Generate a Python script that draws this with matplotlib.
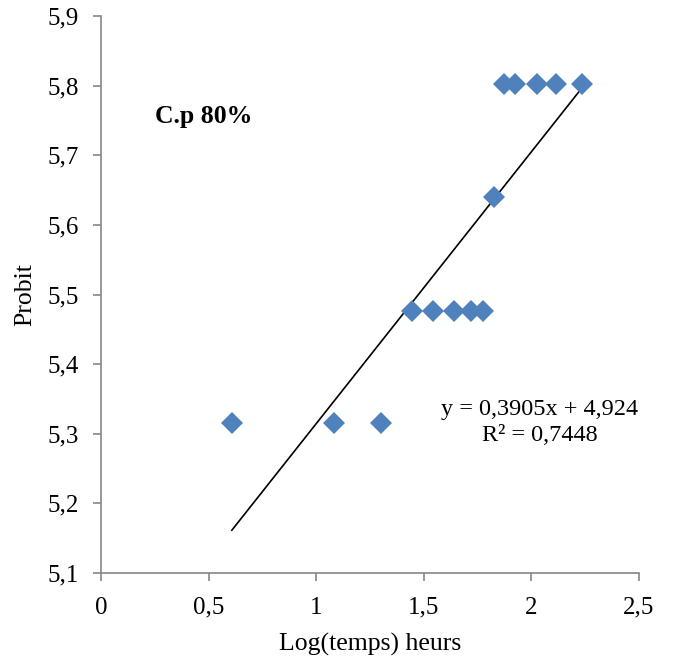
import matplotlib.pyplot as plt
from matplotlib.ticker import FuncFormatter
import numpy as np

plt.rcParams['font.family'] = ['Liberation Serif', 'DejaVu Serif']

# Log(temps) et probits observés
log_temps = [0.608, 1.081, 1.303, 1.447, 1.545, 1.642, 1.721, 1.776,
             1.827, 1.874, 1.925, 2.027, 2.115, 2.236]
probit = [5.316, 5.316, 5.316, 5.476, 5.476, 5.476, 5.476, 5.476,
          5.640, 5.802, 5.802, 5.802, 5.802, 5.802]

# droite de régression
pente = 0.3905
ordonnee = 4.924
r2 = 0.7448


def virgule(v, pos):
    s = '%g' % round(v, 2)
    return s.replace('.', ',')


fig = plt.figure(figsize=(6.77, 6.64), dpi=100)
ax = fig.add_axes([101 / 677, 91 / 664, 538 / 677, 557 / 664])

ax.plot(log_temps, probit, 'D', color='#4F81BD', markersize=11.5,
        markeredgewidth=0, zorder=3)

xl = np.array([min(log_temps), max(log_temps)])
ax.plot(xl, pente * xl + ordonnee, color='black', linewidth=1.2, zorder=2)

ax.set_xlim(0, 2.5)
ax.set_ylim(5.1, 5.9)
ax.set_xticks(np.arange(0, 2.51, 0.5))
ax.set_yticks(np.arange(5.1, 5.91, 0.1))
ax.xaxis.set_major_formatter(FuncFormatter(virgule))
ax.yaxis.set_major_formatter(FuncFormatter(virgule))

for side in ['top', 'right']:
    ax.spines[side].set_visible(False)
for side in ['left', 'bottom']:
    ax.spines[side].set_color('#868686')
    ax.spines[side].set_linewidth(1.2)
ax.tick_params(colors='#868686', labelcolor='black', labelsize=18,
               length=6, width=1.2, direction='out')
ax.tick_params(axis='x', pad=11)
ax.tick_params(axis='y', pad=10)

ax.set_xlabel('Log(temps) heurs', fontsize=18.5, labelpad=10)
ax.set_ylabel('Probit', fontsize=18.5, labelpad=8)

eq = 'y = %s x + %s' % ('0,3905', '4,924')
ax.text(2.04, 5.316, 'y = 0,3905x + 4,924\nR² = 0,7448', fontsize=17.5,
        ha='center', va='center', linespacing=1.35)
ax.text(0.25, 5.755, 'C.p 80%', fontsize=18.5, fontweight='bold',
        ha='left', va='center')

fig.savefig('out.png', dpi=100)
